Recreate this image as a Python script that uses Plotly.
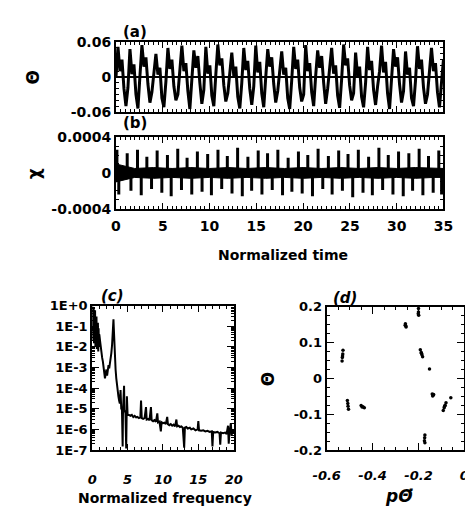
import numpy as np
import plotly.graph_objects as go

# ---------------- data ----------------
# (a) Theta vs normalized time (evenly spaced over 0..35)
theta_a = [
 0.000, 0.052, 0.010, 0.030, -0.020, -0.050, -0.018,
 0.048, 0.005, 0.022, -0.030, -0.054, 0.002,
 0.055, 0.018, 0.034, -0.012, -0.044, -0.026, 0.012,
 0.040, 0.004, 0.016, -0.036, -0.052, -0.008,
 0.050, 0.014, 0.030, -0.016, -0.040, -0.030, 0.014,
 0.054, 0.010, 0.024, -0.024, -0.055, -0.004,
 0.046, 0.016, 0.036, -0.010, -0.046, -0.022,
 0.052, 0.006, 0.020, -0.032, -0.050, 0.004,
 0.056, 0.020, 0.032, -0.014, -0.042, -0.028, 0.010,
 0.042, 0.002, 0.018, -0.034, -0.054, -0.010,
 0.050, 0.012, 0.028, -0.020, -0.048, -0.016,
 0.054, 0.008, 0.026, -0.028, -0.052, 0.000,
 0.048, 0.018, 0.034, -0.012, -0.044, -0.024, 0.012,
 0.044, 0.004, 0.016, -0.036, -0.055, -0.006,
 0.052, 0.014, 0.030, -0.018, -0.042, -0.030,
 0.055, 0.010, 0.024, -0.026, -0.050, 0.002,
 0.046, 0.016, 0.036, -0.010, -0.046, -0.020, 0.014,
 0.050, 0.006, 0.020, -0.032, -0.053, -0.004,
 0.056, 0.020, 0.032, -0.014, -0.040, -0.028,
 0.042, 0.002, 0.018, -0.034, -0.052, -0.010,
 0.052, 0.012, 0.028, -0.022, -0.048, -0.016, 0.010,
 0.054, 0.008, 0.026, -0.028, -0.055, 0.000,
 0.048, 0.018, 0.034, -0.012, -0.044, -0.024,
 0.044, 0.004, 0.016, -0.036, -0.050, -0.006,
 0.053, 0.014, 0.030, -0.018, -0.046, -0.030, 0.012,
 0.050, 0.010, 0.024, -0.026, -0.052, -0.010, 0.030,
]

# (b) chi: dense core band + spikes
band_t = [0, 2, 4, 6, 8, 10, 12, 14, 16, 18, 20, 22, 24, 26, 28, 30, 32, 34, 35]
band_hi = [0.00010, 0.00005, 0.00006, 0.00005, 0.00006, 0.00005, 0.00006, 0.00005, 0.00006,
           0.00005, 0.00006, 0.00005, 0.00006, 0.00005, 0.00006, 0.00005, 0.00006, 0.00005, 0.00005]
band_lo = [-0.00010, -0.00005, -0.00006, -0.00005, -0.00006, -0.00005, -0.00006, -0.00005, -0.00006,
           -0.00005, -0.00006, -0.00005, -0.00006, -0.00005, -0.00006, -0.00005, -0.00006, -0.00005, -0.00005]
up_t = [0.1, 1.2, 2.3, 3.3, 4.4, 5.5, 6.6, 7.6, 8.7, 9.8, 10.9, 11.9, 13.0, 14.1, 15.2, 16.2, 17.3,
        18.4, 19.5, 20.5, 21.6, 22.7, 23.8, 24.8, 25.9, 27.0, 28.1, 29.1, 30.2, 31.3, 32.4, 33.4, 34.5]
up_h = [0.00026, 0.00022, 0.00026, 0.00018, 0.00025, 0.00020, 0.00027, 0.00017, 0.00024, 0.00021,
        0.00026, 0.00019, 0.00028, 0.00018, 0.00025, 0.00022, 0.00026, 0.00017, 0.00024, 0.00020,
        0.00027, 0.00019, 0.00025, 0.00021, 0.00026, 0.00018, 0.00028, 0.00020, 0.00024, 0.00022,
        0.00027, 0.00019, 0.00025]
dn_t = [0.3, 1.6, 2.7, 3.8, 4.9, 5.9, 7.0, 8.1, 9.2, 10.2, 11.3, 12.4, 13.5, 14.5, 15.6, 16.7, 17.8,
        18.8, 19.9, 21.0, 22.1, 23.1, 24.2, 25.3, 26.4, 27.4, 28.5, 29.6, 30.7, 31.7, 32.8, 33.9, 34.8]
dn_h = [-0.00024, -0.00020, -0.00025, -0.00018, -0.00022, -0.00026, -0.00019, -0.00024, -0.00021,
        -0.00025, -0.00018, -0.00023, -0.00026, -0.00020, -0.00024, -0.00019, -0.00025, -0.00021,
        -0.00023, -0.00026, -0.00018, -0.00024, -0.00020, -0.00027, -0.00022, -0.00025, -0.00019,
        -0.00024, -0.00026, -0.00020, -0.00025, -0.00022, -0.00024]

# (c) power spectrum
freq_c = [0.0, 0.05, 0.1, 0.15, 0.2, 0.25, 0.3, 0.35, 0.4, 0.45, 0.5, 0.55, 0.6, 0.65, 0.7, 0.75,
          0.8, 0.85, 0.9, 0.95, 1.0, 1.1, 1.2, 1.3, 1.4, 1.5, 1.6, 1.7, 1.8, 1.9, 2.0, 2.1, 2.2,
          2.3, 2.4, 2.5, 2.6, 2.7, 2.8, 2.9, 3.0, 3.05, 3.1, 3.2, 3.3, 3.4, 3.5, 3.6, 3.7, 3.8,
          3.9, 4.0, 4.05, 4.1, 4.2, 4.3, 4.35, 4.5, 4.55, 4.6, 4.7, 4.8, 4.85, 4.9, 5.0,
          5.2, 5.4, 5.6, 5.8, 6.0, 6.2, 6.4, 6.6, 6.8, 6.9, 7.0, 7.2, 7.4, 7.6, 7.7, 7.9, 8.1,
          8.3, 8.4, 8.6, 8.8, 9.0, 9.2, 9.3, 9.5, 9.7, 9.8, 10.0, 10.2, 10.4, 10.6, 10.7, 10.9,
          11.1, 11.3, 11.5, 11.7, 11.9, 12.0, 12.2, 12.4, 12.6, 12.8, 13.0, 13.1, 13.3, 13.5,
          13.8, 14.0, 14.3, 14.6, 14.9, 15.0, 15.1, 15.4, 15.7, 16.0, 16.3, 16.6, 16.9, 17.0,
          17.1, 17.4, 17.7, 18.0, 18.1, 18.2, 18.5, 18.8, 19.0, 19.2, 19.3, 19.4, 19.6, 19.7,
          19.8, 20.0]
power_c = [0.9, 0.03, 0.8, 0.02, 0.7, 0.015, 0.5, 0.02, 0.6, 0.01, 0.4, 0.015, 0.3, 0.008, 0.2, 0.01,
           0.15, 0.006, 0.08, 0.01, 0.04, 0.02, 0.008, 0.006, 0.003, 0.002, 0.0012, 0.0006, 0.0003,
           0.0005, 0.0008, 0.0004, 0.001, 0.0013, 0.0009, 0.0014, 0.0025, 0.005, 0.012, 0.05, 0.22,
           0.08, 0.02, 0.004, 0.0008, 0.0003, 0.00012, 0.00006, 0.00004, 0.000025, 0.000018,
           0.00008, 0.000012, 0.00001, 0.000009, 1.5e-7, 0.000008, 0.00013, 0.000009, 0.000007,
           0.000006, 1.2e-7, 0.000006, 0.00004, 0.000005,
           5e-6, 4.5e-6, 5e-6, 4e-6, 4.5e-6, 3.8e-6, 4e-6, 3.5e-6, 3.8e-6, 2.5e-5, 3.5e-6, 3.2e-6,
           3.5e-6, 1.2e-5, 3e-6, 3.2e-6, 2.8e-6, 1.2e-5, 2.8e-6, 2.5e-6, 2.8e-6, 2.3e-6, 6e-6,
           2.2e-6, 2.4e-6, 8e-7, 2.2e-6, 2e-6, 2.1e-6, 1.8e-6, 4e-6, 1.8e-6, 1.6e-6, 1.8e-6,
           1.5e-6, 1.7e-6, 1.4e-6, 3e-6, 1.4e-6, 1.5e-6, 1.3e-6, 1.4e-6, 1.2e-6, 1.3e-7, 1.2e-6,
           1.3e-6, 1.1e-6, 1.2e-6, 1e-6, 1.1e-6, 9e-7, 1e-6, 2.5e-6, 9e-7, 8.5e-7, 9e-7, 8e-7,
           8.5e-7, 7.5e-7, 8e-7, 1.5e-7, 7.5e-7, 7e-7, 7.5e-7, 6.5e-7, 1.8e-7, 7e-7, 6.5e-7, 7e-7,
           6e-7, 1.5e-6, 2e-7, 7e-7, 2e-6, 5e-7, 1e-6, 6e-7]

# (d) Poincare section points
pth_d = [-0.200, -0.200, -0.199, -0.201,
         -0.257, -0.255, -0.258, -0.254,
         -0.529, -0.530, -0.532, -0.533, -0.531,
         -0.192, -0.188, -0.185, -0.182, -0.187,
         -0.152,
         -0.140, -0.136, -0.138, -0.134,
         -0.059,
         -0.080, -0.084, -0.088, -0.092, -0.086,
         -0.510, -0.508, -0.507, -0.505,
         -0.450, -0.446, -0.442, -0.436,
         -0.172, -0.173, -0.174, -0.172]
th_d = [0.195, 0.185, 0.176, 0.180,
        0.152, 0.146, 0.148, 0.143,
        0.078, 0.068, 0.058, 0.048, 0.062,
        0.080, 0.072, 0.066, 0.060, 0.070,
        0.026,
        -0.044, -0.047, -0.049, -0.045,
        -0.054,
        -0.068, -0.075, -0.082, -0.090, -0.078,
        -0.062, -0.070, -0.078, -0.086,
        -0.076, -0.080, -0.079, -0.082,
        -0.158, -0.166, -0.174, -0.180]

# ---------------- figure ----------------
W, H = 473, 512
def px_x(a, b):
    return [a / W, b / W]
def px_y(top, bot):
    return [(H - bot) / H, (H - top) / H]

BLACK = "#000000"
FONT = "DejaVu Sans"
tickfont = dict(family=FONT, size=14, color=BLACK, weight="bold")
tickfont_s = dict(family=FONT, size=13, color=BLACK, weight="bold")
tickfont_i = dict(family=FONT, size=13, color=BLACK, weight="bold", style="italic")

fig = go.Figure()

t_a = np.linspace(0, 35, len(theta_a))
fig.add_trace(go.Scatter(x=t_a, y=theta_a, mode="lines", line=dict(color=BLACK, width=3),
                         xaxis="x", yaxis="y", showlegend=False))

# (b)
fig.add_trace(go.Scatter(x=band_t + band_t[::-1], y=band_hi + band_lo[::-1], fill="toself",
                         fillcolor=BLACK, mode="lines", line=dict(color=BLACK, width=1),
                         xaxis="x2", yaxis="y2", showlegend=False))
sx, sy = [], []
for t, h in zip(up_t, up_h):
    sx += [t, t, None]; sy += [0, h, None]
for t, h in zip(dn_t, dn_h):
    sx += [t, t, None]; sy += [0, h, None]
fig.add_trace(go.Scatter(x=sx, y=sy, mode="lines", line=dict(color=BLACK, width=3),
                         xaxis="x2", yaxis="y2", showlegend=False))

# (c)
fig.add_trace(go.Scatter(x=freq_c, y=power_c, mode="lines", line=dict(color=BLACK, width=2),
                         xaxis="x3", yaxis="y3", showlegend=False))

# (d)
fig.add_trace(go.Scatter(x=pth_d, y=th_d, mode="markers", marker=dict(color=BLACK, size=3.5),
                         xaxis="x4", yaxis="y4", showlegend=False))

frame = dict(showline=True, linecolor=BLACK, linewidth=2, mirror="allticks", ticks="inside",
             tickcolor=BLACK, tickwidth=1.3, showgrid=False, zeroline=False)

fig.update_layout(
    width=W, height=H, margin=dict(l=0, r=0, t=0, b=0),
    paper_bgcolor="white", plot_bgcolor="white",
    xaxis=dict(domain=px_x(99, 444), range=[0, 35], dtick=5, ticklen=6, showticklabels=False,
               minor=dict(dtick=0.5, ticks="inside", ticklen=3, tickcolor=BLACK), anchor="y", **frame),
    yaxis=dict(domain=px_y(27, 99), range=[-0.06, 0.06], tickvals=[-0.06, 0, 0.06],
               ticktext=["-0.06", "0", "0.06"], ticklen=6, tickfont=tickfont,
               minor=dict(dtick=0.01, ticks="inside", ticklen=3, tickcolor=BLACK), anchor="x",
               **{**frame, "zeroline": True}, zerolinecolor=BLACK, zerolinewidth=1.5),
    xaxis2=dict(domain=px_x(99, 444), range=[0, 35], dtick=5, ticklen=6, tickfont=tickfont,
                ticklabelstandoff=3,
                minor=dict(dtick=0.5, ticks="inside", ticklen=3, tickcolor=BLACK), anchor="y2", **frame),
    yaxis2=dict(domain=px_y(125, 199), range=[-0.0004, 0.0004], tickvals=[-0.0004, 0, 0.0004],
                ticktext=["-0.0004", "0", "0.0004"], ticklen=6, tickfont=tickfont,
                minor=dict(dtick=0.0001, ticks="inside", ticklen=3, tickcolor=BLACK), anchor="x2", **frame),
    xaxis3=dict(domain=px_x(74, 223), range=[0, 20], tickvals=[0, 5, 10, 15, 20],
                ticktext=["0", "5", "10", "15", "20"], ticklen=6, tickfont=tickfont_i,
                ticklabelstandoff=16,
                minor=dict(dtick=1, ticks="inside", ticklen=3, tickcolor=BLACK), anchor="y3", **frame),
    yaxis3=dict(domain=px_y(299, 448), type="log", range=[-7, 0],
                tickvals=[1, 1e-1, 1e-2, 1e-3, 1e-4, 1e-5, 1e-6, 1e-7],
                ticktext=["1E+0", "1E-1", "1E-2", "1E-3", "1E-4", "1E-5", "1E-6", "1E-7"],
                ticklen=7, tickfont=tickfont_s,
                minor=dict(dtick="D1", ticks="inside", ticklen=3, tickcolor=BLACK), anchor="x3", **frame),
    xaxis4=dict(domain=px_x(321, 466), range=[-0.6, 0], tickvals=[-0.6, -0.4, -0.2, 0],
                ticktext=["-0.6", "-0.4", "-0.2", "0"], ticklen=7, tickfont=tickfont_i,
                ticklabelstandoff=12,
                minor=dict(dtick=0.05, ticks="inside", ticklen=3, tickcolor=BLACK), anchor="y4", **frame),
    yaxis4=dict(domain=px_y(300, 448), range=[-0.2, 0.2], tickvals=[-0.2, -0.1, 0, 0.1, 0.2],
                ticktext=["-0.2", "-0.1", "0", "0.1", "0.2"], ticklen=7, tickfont=tickfont_s,
                minor=dict(dtick=0.025, ticks="inside", ticklen=3, tickcolor=BLACK), anchor="x4", **frame),
)

def ann(text, x, y, size=14, angle=0, italic=False, bold=True):
    fig.add_annotation(text=text, x=x / W, y=1 - y / H, xref="paper", yref="paper",
                       showarrow=False, textangle=angle, xanchor="center", yanchor="middle",
                       font=dict(family=FONT, size=size, color=BLACK,
                                 weight="bold" if bold else "normal",
                                 style="italic" if italic else "normal"))

ann("(a)", 119, 17, 15)
ann("(b)", 119, 110, 15)
ann("(c)", 95, 289, 15, italic=True)
ann("(d)", 340, 291, 15, italic=True)
ann("Θ", 12, 63, 17, angle=-90)
ann("χ", 13, 163, 17, angle=-90)
ann("Θ", 259, 375, 17, angle=-90)
ann("Normalized time", 275, 247, 14)
ann("Normalized frequency", 151, 498, 14)
ann("<i>p</i>Θ\u0307", 398, 495, 17, italic=True)

fig.write_html("out.html")
